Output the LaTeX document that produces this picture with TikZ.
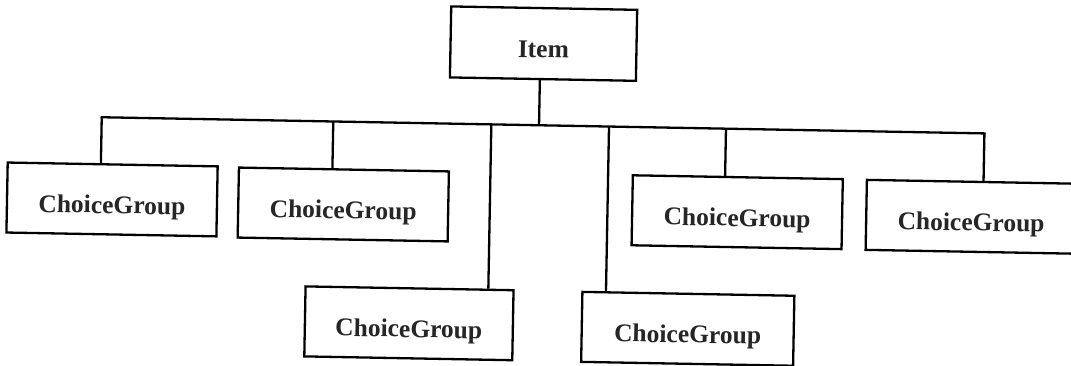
\documentclass[tikz,border=0pt]{standalone}
\usepackage{fontspec}
\setmainfont{Liberation Serif}
\usetikzlibrary{calc}
\begin{document}
\begin{tikzpicture}[x=1pt,y=-1pt,
  box/.style={draw, line width=2.3pt, minimum width=210pt, minimum height=70pt, inner sep=0pt,
    text height=28pt, text depth=0pt,
    font=\fontsize{25.5}{30}\selectfont\bfseries, text=black!85},
  wire/.style={line width=2.3pt}]
\useasboundingbox[fill=white] (0,0) rectangle (1071,366);
\begin{scope}[rotate around={-1.05:(535,183)}, transform shape]
\node[box, minimum width=186pt, minimum height=71pt] (item) at (541,43.5) {Item};
\node[box] (b1) at (112.4,207.2) {ChoiceGroup};
\node[box] (b2) at (343.7,208) {ChoiceGroup};
\node[box, minimum width=208pt] (b3) at (411.5,325.6) {ChoiceGroup};
\node[box, minimum width=212pt] (b4) at (690.4,326) {ChoiceGroup};
\node[box] (b5) at (737.7,208.5) {ChoiceGroup};
\node[box] (b6) at (971.8,208.8) {ChoiceGroup};
\coordinate (j) at (538,125.2);
\coordinate (t1) at (100.6,125.2);
\coordinate (t2) at (332.2,125.2);
\coordinate (t3) at (490.3,125.2);
\coordinate (t4) at (608,125.2);
\coordinate (t5) at (725,125.2);
\coordinate (t6) at (983.5,125.2);
\draw[wire] ($(item.south west)!(j)!(item.south east)$) -- (j);
\draw[wire, line cap=rect] (t1) -- (t6);
\draw[wire] (t1) -- ($(b1.north west)!(t1)!(b1.north east)$);
\draw[wire] (t2) -- ($(b2.north west)!(t2)!(b2.north east)$);
\draw[wire] (t3) -- ($(b3.north west)!(t3)!(b3.north east)$);
\draw[wire] (t4) -- ($(b4.north west)!(t4)!(b4.north east)$);
\draw[wire] (t5) -- ($(b5.north west)!(t5)!(b5.north east)$);
\draw[wire] (t6) -- ($(b6.north west)!(t6)!(b6.north east)$);
\end{scope}
\end{tikzpicture}
\end{document}
